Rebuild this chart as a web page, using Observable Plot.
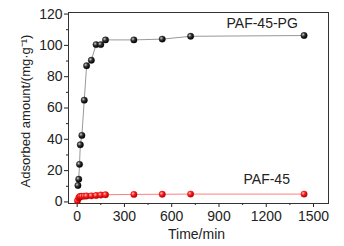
<!DOCTYPE html>
<html><head><meta charset="utf-8">
<script src="https://cdn.jsdelivr.net/npm/d3@7"></script>
<script src="https://cdn.jsdelivr.net/npm/@observablehq/plot@0.6"></script>
<style>body{margin:0;background:#fff}</style>
</head><body><div id="chart"></div>
<script>
const timesPG = [5, 10, 15, 20, 30, 45, 60, 90, 120, 150, 180, 360, 540, 720, 1440];
const valuesPG = [10.5, 14.5, 24, 36.5, 42.5, 65, 87, 90.5, 100.5, 100.5, 103.5, 103.5, 104, 105.8, 106.3];
const times45 = [2, 10, 15, 20, 30, 45, 60, 90, 120, 150, 180, 360, 540, 720, 1440];
const values45 = [0.8, 2.5, 3.3, 3.5, 3.6, 3.7, 3.8, 3.9, 4.1, 4.4, 4.6, 4.8, 4.9, 5.0, 5.0];
const seriesNames = ["PAF-45-PG", "PAF-45"];
const xTicks = [0, 300, 600, 900, 1200, 1500];
const xMinor = [150, 450, 750, 1050, 1350];
const yTicks = [0, 20, 40, 60, 80, 100, 120];
const yMinor = [10, 30, 50, 70, 90, 110];
const xLabel = "Time/min";
const yLabel = "Adsorbed amount/(mg·g⁻¹)";

const pg = timesPG.map((t, i) => ({t, v: valuesPG[i]}));
const p45 = times45.map((t, i) => ({t, v: values45[i]}));
const font = "Liberation Sans, Arial, sans-serif";

const chart = Plot.plot({
  width: 344, height: 246,
  marginLeft: 68, marginRight: 16, marginTop: 12, marginBottom: 43,
  style: {fontFamily: font, fontSize: "14px", color: "#222", background: "#fff"},
  x: {domain: [-55, 1595]},
  y: {domain: [-1, 121]},
  marks: [
    Plot.axisY({ticks: yTicks, tickSize: 4, tickPadding: 2, tickFormat: "d", label: null, fontSize: 14}),
    Plot.axisY({ticks: yMinor, tickSize: 2, text: null, label: null}),
    Plot.axisX({ticks: xTicks, tickSize: 4, tickPadding: 4, tickFormat: "d", label: null, fontSize: 14}),
    Plot.axisX({ticks: xMinor, tickSize: 2, text: null, label: null}),
    Plot.frame({stroke: "#333", strokeWidth: 1}),
    Plot.line(pg, {x: "t", y: "v", stroke: "#999", strokeWidth: 1}),
    Plot.line(p45, {x: "t", y: "v", stroke: "#ff8080", strokeWidth: 1}),
    Plot.dot(pg, {x: "t", y: "v", r: 3.2, fill: "url(#gBlack)", stroke: "#111", strokeWidth: 0.4}),
    Plot.dot(p45, {x: "t", y: "v", r: 3.2, fill: "url(#gRed)", stroke: "#c00", strokeWidth: 0.4}),
    Plot.text([seriesNames[0]], {frameAnchor: "top-right", text: d => d, dx: -102, dy: 15, lineAnchor: "bottom", textAnchor: "start", fontSize: 14, fill: "#222"}),
    Plot.text([seriesNames[1]], {frameAnchor: "top-right", text: d => d, dx: -85, dy: 171, lineAnchor: "bottom", textAnchor: "start", fontSize: 14, fill: "#222"}),
    Plot.text([xLabel], {frameAnchor: "bottom", text: d => d, dx: -2, dy: 35, lineAnchor: "bottom", fontSize: 14, fill: "#222"}),
    Plot.text([yLabel], {frameAnchor: "left", text: d => d, dx: -43, dy: 3, rotate: -90, lineAnchor: "middle", textAnchor: "middle", fontSize: 13, fill: "#222"})
  ]
});

const svg = d3.select(chart);
const defs = svg.insert("defs", ":first-child");
function grad(id, c0, c1, c2) {
  const g = defs.append("radialGradient").attr("id", id).attr("cx", "35%").attr("cy", "35%").attr("r", "65%");
  g.append("stop").attr("offset", "0%").attr("stop-color", c0);
  g.append("stop").attr("offset", "45%").attr("stop-color", c1);
  g.append("stop").attr("offset", "100%").attr("stop-color", c2);
}
grad("gBlack", "#cfcfcf", "#333", "#000");
grad("gRed", "#ffc0c0", "#f22", "#b00000");
document.getElementById("chart").appendChild(chart);
</script></body></html>
